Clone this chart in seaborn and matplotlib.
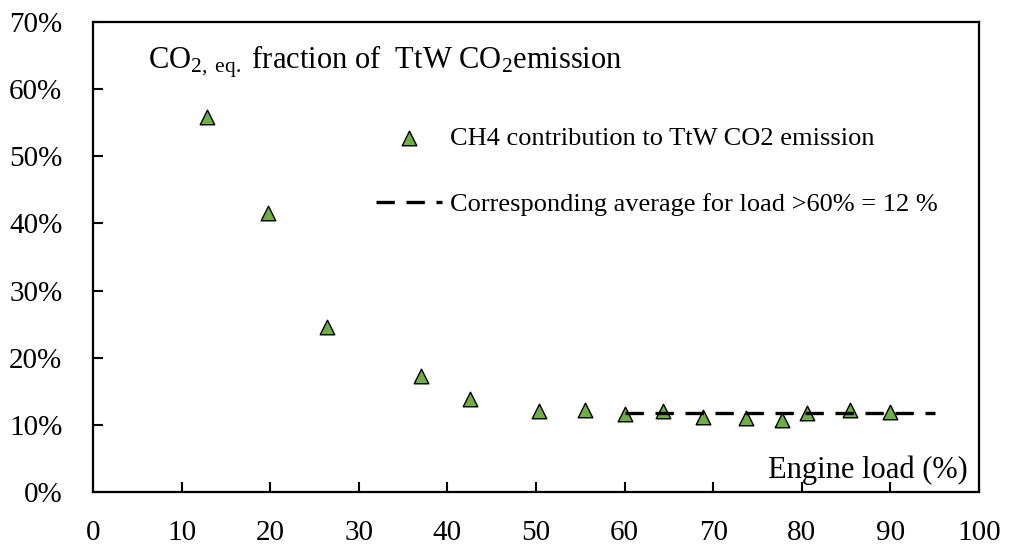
import numpy as np
import pandas as pd
import seaborn as sns
import matplotlib.pyplot as plt
from matplotlib.ticker import FuncFormatter

# data
engine_load = [12.9, 19.8, 26.4, 37.0, 42.5, 50.3, 55.5, 60.0, 64.3, 68.8, 73.7, 77.8, 80.6, 85.4, 90.0]
ch4_share = [55.9, 41.5, 24.6, 17.3, 13.8, 12.0, 12.2, 11.6, 12.1, 11.1, 11.0, 10.7, 11.7, 12.2, 11.9]
avg_load = [60, 95]
avg_share = [11.7, 11.7]
xticks = list(range(0, 101, 10))
yticks = list(range(0, 71, 10))

sns.set_theme(style="white")
plt.rcParams['font.family'] = ['Liberation Serif', 'DejaVu Serif']
plt.rcParams['mathtext.fontset'] = 'custom'
plt.rcParams['mathtext.rm'] = 'Liberation Serif'
plt.rcParams['mathtext.it'] = 'Liberation Serif:italic'
plt.rcParams['text.color'] = 'black'

df = pd.DataFrame({"load": engine_load, "share": ch4_share})
df_avg = pd.DataFrame({"load": avg_load, "share": avg_share})

fig = plt.figure(figsize=(10.09, 5.53), dpi=100)
ax = fig.add_axes([0.0922, 0.1103, 0.878, 0.8497])

sns.scatterplot(data=df, x="load", y="share", marker="^", s=110, color="#70AD47",
                edgecolor="black", linewidth=1, ax=ax, zorder=2,
                label="CH4 contribution to TtW CO2 emission")
sns.lineplot(data=df_avg, x="load", y="share", color="black", lw=2.4,
             ax=ax, zorder=3,
             label="Corresponding average for load >60% = 12 %")
ax.lines[-1].set_dashes((5.5, 3.5))

ax.set_xlim(0, 100)
ax.set_ylim(0, 70)
ax.set_xticks(xticks)
ax.set_yticks(yticks)
ax.yaxis.set_major_formatter(FuncFormatter(lambda v, p: f"{v:.0f}%"))
ax.tick_params(axis='x', direction='in', length=7, width=1.5, pad=20,
               labelsize=21, bottom=True, colors='black')
ax.tick_params(axis='y', direction='in', length=7, width=1.5, pad=22,
               labelsize=21, left=True, colors='black')
ax.set_xlabel("")
ax.set_ylabel("")
for sp in ax.spines.values():
    sp.set_linewidth(1.6)
    sp.set_color("black")

ax.text(0.062, 0.902, r"CO$_{\mathrm{2,\ eq.}}$ fraction of  TtW CO$_2$emission",
        transform=ax.transAxes, fontsize=22, ha="left", va="baseline", color="black")
ax.text(0.987, 0.03, "Engine load (%)", transform=ax.transAxes,
        fontsize=22, ha="right", va="baseline", color="black")

handles, labels = ax.get_legend_handles_labels()
leg = ax.legend(handles, labels, loc="upper left", bbox_to_anchor=(0.319, 0.778),
                frameon=False, fontsize=19, borderpad=0, labelspacing=1.62,
                handlelength=2.5, handletextpad=0.3, borderaxespad=0)
for t in leg.get_texts():
    t.set_color("black")

plt.savefig("out.png", dpi=100)
